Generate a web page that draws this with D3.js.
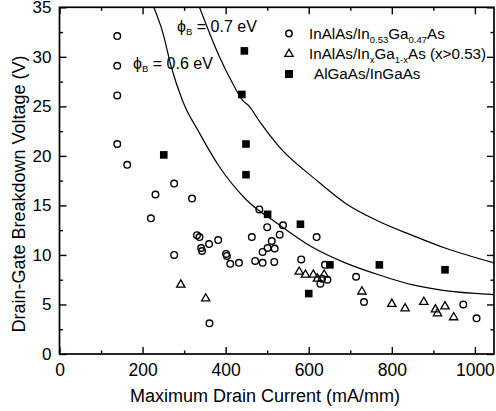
<!DOCTYPE html>
<html>
<head>
<meta charset="utf-8">
<script src="https://cdn.jsdelivr.net/npm/d3@7"></script>
<style>
  html, body { margin: 0; padding: 0; background: #fff; }
  svg { display: block; font-family: "Liberation Sans", Arial, Helvetica, sans-serif; }
</style>
</head>
<body>
<svg id="chart" width="496" height="411"></svg>
<script>
// ---------------- data ----------------
// InAlAs/In0.53Ga0.47As (open circles): [Imax mA/mm, BV V]
const inalasLattice = [
  [139,32.1],[139,29.1],[139,26.1],[139,21.2],[163,19.1],[276,17.2],[231,16.1],[319,15.7],
  [220,13.7],[331,12.0],[337,11.8],[360,11.1],[382,11.5],[341,10.7],[343,10.4],[276,10.0],
  [401,10.1],[403,9.9],[411,9.1],[432,9.2],[361,3.1],[481,14.6],[500,12.8],[538,13.0],
  [463,11.8],[511,11.4],[530,12.05],[501,10.7],[518,10.65],[489,10.3],[471,9.4],[489,9.2],
  [517,9.3],[582,9.55],[619,11.8],[639,9.0],[628,7.1],[645,7.5],[632,7.6],[714,7.8],
  [733,5.25],[972,5.0],[1004,3.6]
];
// InAlAs/InxGa1-xAs (x>0.53) (open triangles)
const inalasPseudo = [
  [292,7.0],[352,5.6],[577,8.3],[592,8.0],[611,8.0],[621,7.6],[637,8.0],[728,6.3],
  [800,5.05],[832,4.6],[877,5.25],[905,4.5],[910,4.1],[928,4.8],[949,3.7]
];
// AlGaAs/InGaAs (filled squares)
const algaas = [
  [251,20.1],[445,30.6],[439,26.2],[449,21.2],[449,18.1],[501,14.1],[580,13.1],
  [651,9.0],[600,6.1],[770,9.0],[928,8.5]
];
// theoretical curves, points
const curve06 = [
  [227,35],[249,32.4],[269,29],[296,25.6],[337,22.3],[385,18.9],[449,15.6],[527,13.1],
  [608,10.8],[688,9.2],[768,8.0],[848,7.0],[928,6.4],[1046,6.0]
];
const curve07 = [
  [337,35],[363,32.2],[385,30],[417,27.3],[441,25.6],[457,25.0],[481,23.5],[529,20.9],
  [617,17.6],[689,15.2],[768,13.4],[848,12.0],[928,10.7],[1046,9.2]
];
const xMajorTicks = [0,200,400,600,800,1000];
const xMinorTicks = [100,300,500,700,900];
const yMajorTicks = [0,5,10,15,20,25,30,35];
const yMinorTicks = [2.5,7.5,12.5,17.5,22.5,27.5,32.5];

// ---------------- layout ----------------
const svg = d3.select("#chart");
const L = 59.5, R = 494, T = 7.3, B = 354;
const x = d3.scaleLinear().domain([0,1046]).range([L,R]);
const y = d3.scaleLinear().domain([0,35]).range([B,T]);

svg.append("defs").append("clipPath").attr("id","clip")
  .append("rect").attr("x",L).attr("y",T).attr("width",R-L).attr("height",B-T);

// axes (ticks inward)
function styleAxis(g){ g.select(".domain").remove(); g.selectAll("line").attr("stroke","#000").attr("stroke-width",1.4); }
const fmt = d3.format("d");
svg.append("g").attr("transform",`translate(0,${B})`)
  .call(d3.axisBottom(x).tickValues(xMajorTicks).tickSize(-7).tickPadding(10).tickFormat(fmt))
  .call(styleAxis)
  .call(g=>g.selectAll("text").attr("font-size",17.5).attr("fill","#000").attr("font-family","Liberation Sans, Arial, sans-serif"));
svg.append("g").attr("transform",`translate(0,${B})`)
  .call(d3.axisBottom(x).tickValues(xMinorTicks).tickSize(-3.5).tickFormat(""))
  .call(styleAxis);
svg.append("g").attr("transform",`translate(0,${T})`)
  .call(d3.axisTop(x).tickValues(xMajorTicks).tickSize(-7).tickFormat(""))
  .call(styleAxis);
svg.append("g").attr("transform",`translate(0,${T})`)
  .call(d3.axisTop(x).tickValues(xMinorTicks).tickSize(-3.5).tickFormat(""))
  .call(styleAxis);
svg.append("g").attr("transform",`translate(${L},0)`)
  .call(d3.axisLeft(y).tickValues(yMajorTicks).tickSize(-7).tickPadding(8).tickFormat(fmt))
  .call(styleAxis)
  .call(g=>g.selectAll("text").attr("font-size",17).attr("fill","#000").attr("font-family","Liberation Sans, Arial, sans-serif"));
svg.append("g").attr("transform",`translate(${L},0)`)
  .call(d3.axisLeft(y).tickValues(yMinorTicks).tickSize(-3.5).tickFormat(""))
  .call(styleAxis);
svg.append("g").attr("transform",`translate(${R},0)`)
  .call(d3.axisRight(y).tickValues(yMajorTicks).tickSize(-7).tickFormat(""))
  .call(styleAxis);
svg.append("g").attr("transform",`translate(${R},0)`)
  .call(d3.axisRight(y).tickValues(yMinorTicks).tickSize(-3.5).tickFormat(""))
  .call(styleAxis);

// frame
svg.append("rect").attr("x",L).attr("y",T).attr("width",R-L).attr("height",B-T)
  .attr("fill","none").attr("stroke","#000").attr("stroke-width",1.7);

// curves
const line = d3.line().x(d=>x(d[0])).y(d=>y(d[1])).curve(d3.curveMonotoneX);
[curve06, curve07].forEach(c=>{
  svg.append("path").datum(c).attr("d",line).attr("clip-path","url(#clip)")
    .attr("fill","none").attr("stroke","#000").attr("stroke-width",1.2);
});

// curve labels
function phiLabel(px, py, val){
  const t = svg.append("text").attr("x",px).attr("y",py).attr("font-size",16).attr("fill","#000");
  t.append("tspan").text("\u03D5");
  t.append("tspan").attr("font-size",9.5).attr("dy",3).text("B");
  t.append("tspan").attr("dy",-3).text(" = " + val + " eV");
}
phiLabel(177, 31.5, "0.7");
phiLabel(133, 68.5, "0.6");

// markers
const g = svg.append("g").attr("clip-path","url(#clip)");
g.selectAll("circle.c").data(inalasLattice).join("circle")
  .attr("cx",d=>x(d[0])).attr("cy",d=>y(d[1])).attr("r",3.3)
  .attr("fill","none").attr("stroke","#000").attr("stroke-width",1.4);
const tri = d3.symbol().type(d3.symbolTriangle).size(30);
g.selectAll("path.t").data(inalasPseudo).join("path")
  .attr("transform",d=>`translate(${x(d[0])},${y(d[1])})`).attr("d",tri)
  .attr("fill","none").attr("stroke","#000").attr("stroke-width",1.3);
g.selectAll("rect.s").data(algaas).join("rect")
  .attr("x",d=>x(d[0])-3.8).attr("y",d=>y(d[1])-3.8).attr("width",7.6).attr("height",7.6)
  .attr("fill","#000");

// legend
const lg = svg.append("g");
lg.append("circle").attr("cx",289).attr("cy",33.5).attr("r",3.2).attr("fill","none").attr("stroke","#000").attr("stroke-width",1.4);
lg.append("path").attr("transform","translate(289,54)").attr("d",tri).attr("fill","none").attr("stroke","#000").attr("stroke-width",1.3);
lg.append("rect").attr("x",285).attr("y",70).attr("width",8).attr("height",8).attr("fill","#000");

function legendText(px, py, parts){
  const t = lg.append("text").attr("x",px).attr("y",py).attr("font-size",15.2).attr("fill","#000");
  parts.forEach(p=>{
    if (p.sub) t.append("tspan").attr("font-size",9.5).attr("dy",3.5).text(p.sub);
    else t.append("tspan").attr("dy",p.after ? -3.5 : 0).text(p.t);
  });
}
legendText(309, 39, [{t:"InAlAs/In"},{sub:"0.53"},{t:"Ga",after:true},{sub:"0.47"},{t:"As",after:true}]);
legendText(309, 59.3, [{t:"InAlAs/In"},{sub:"x"},{t:"Ga",after:true},{sub:"1-x"},{t:"As (x>0.53)",after:true}]);
legendText(314, 79, [{t:"AlGaAs/InGaAs"}]);

// axis titles
svg.append("text").attr("x",265).attr("y",401.5).attr("text-anchor","middle")
  .attr("font-size",18).attr("fill","#000").text("Maximum Drain Current (mA/mm)");
svg.append("text").attr("transform","translate(25,194) rotate(-90)").attr("text-anchor","middle")
  .attr("font-size",18).attr("fill","#000").text("Drain-Gate Breakdown Voltage (V)");
</script>
</body>
</html>
